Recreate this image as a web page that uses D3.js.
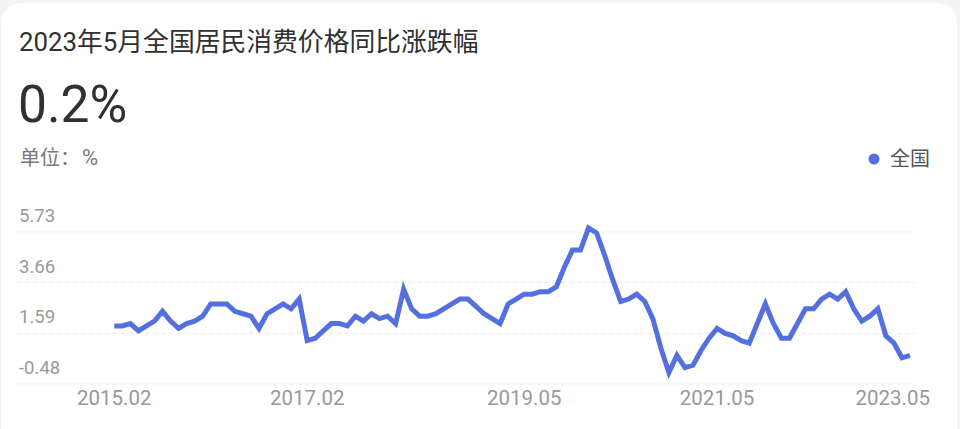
<!DOCTYPE html>
<html>
<head>
<meta charset="utf-8">
<script src="https://cdn.jsdelivr.net/npm/d3@7"></script>
<style>
  html, body { margin: 0; padding: 0; background: #f4f4f5; }
  svg { display: block; }
  text { font-family: Roboto, "Noto Sans CJK SC", sans-serif; }
</style>
</head>
<body>
<svg id="chart" width="960" height="429"></svg>
<script>
// ---- data ----
const titleText = "2023年5月全国居民消费价格同比涨跌幅";
const latestValue = "0.2%";
const unitLabel = "单位：";
const unitSymbol = "%";
const seriesName = "全国";
// months from 2015.02 to 2023.05
const months = [];
for (let y = 2015; y <= 2023; y++) {
  for (let m = 1; m <= 12; m++) {
    if ((y === 2015 && m < 2) || (y === 2023 && m > 5)) continue;
    months.push(y + "." + String(m).padStart(2, "0"));
  }
}
const cpi2015 = [1.4, 1.4, 1.5, 1.2, 1.4, 1.6, 2.0, 1.6, 1.3, 1.5, 1.6];
const cpi2016 = [1.8, 2.3, 2.3, 2.3, 2.0, 1.9, 1.8, 1.3, 1.9, 2.1, 2.3, 2.1];
const cpi2017 = [2.5, 0.8, 0.9, 1.2, 1.5, 1.5, 1.4, 1.8, 1.6, 1.9, 1.7, 1.8];
const cpi2018 = [1.5, 2.9, 2.1, 1.8, 1.8, 1.9, 2.1, 2.3, 2.5, 2.5, 2.2, 1.9];
const cpi2019 = [1.7, 1.5, 2.3, 2.5, 2.7, 2.7, 2.8, 2.8, 3.0, 3.8, 4.5, 4.5];
const cpi2020 = [5.4, 5.2, 4.3, 3.3, 2.4, 2.5, 2.7, 2.4, 1.7, 0.5, -0.5, 0.2];
const cpi2021 = [-0.3, -0.2, 0.4, 0.9, 1.3, 1.1, 1.0, 0.8, 0.7, 1.5, 2.3, 1.5];
const cpi2022 = [0.9, 0.9, 1.5, 2.1, 2.1, 2.5, 2.7, 2.5, 2.8, 2.1, 1.6, 1.8];
const cpi2023 = [2.1, 1.0, 0.7, 0.1, 0.2];
const values = [].concat(cpi2015, cpi2016, cpi2017, cpi2018, cpi2019, cpi2020, cpi2021, cpi2022, cpi2023);
const yTicks = [-0.48, 1.59, 3.66, 5.73];
const xTickLabels = ["2015.02", "2017.02", "2019.05", "2021.05", "2023.05"];

const data = months.map((m, i) => ({ m, v: values[i] }));

// ---- layout ----
const svg = d3.select("#chart");
const plotLeft = 17, plotRight = 915, labelRight = 930;

// card
svg.append("rect")
  .attr("x", 1).attr("y", 3).attr("width", 956).attr("height", 480)
  .attr("rx", 20).attr("fill", "#ffffff");

// header texts
svg.append("text").attr("x", 19).attr("y", 51)
  .attr("font-size", 25.8).attr("fill", "#303030").text(titleText);
svg.append("text").attr("x", 18).attr("y", 122)
  .attr("font-size", 51.5).attr("fill", "#303030").text(latestValue);
const unit = svg.append("text").attr("x", 20).attr("y", 165)
  .attr("font-size", 20).attr("fill", "#777");
unit.append("tspan").text(unitLabel);
unit.append("tspan").attr("x", 82).attr("font-size", 22).text(unitSymbol);

// legend
const legend = svg.append("g");
legend.append("circle").attr("cx", 874).attr("cy", 159).attr("r", 5.5).attr("fill", "#5470e0");
legend.append("text").attr("x", 890).attr("y", 166)
  .attr("font-size", 20).attr("fill", "#555").text(seriesName);

// scales
const x = d3.scalePoint().domain(months).range([114.3, 910]);
const yGrid = d3.scaleLinear().domain([-0.48, 5.73]).range([384, 232]);
const yLine = d3.scaleLinear().domain([-0.48, 5.73]).range([372, 220]);

// grid lines
svg.append("g").selectAll("line").data(yTicks).join("line")
  .attr("x1", plotLeft).attr("x2", plotRight)
  .attr("y1", d => yGrid(d)).attr("y2", d => yGrid(d))
  .attr("stroke", "#e6e6e6").attr("stroke-width", 1)
  .attr("stroke-dasharray", "4,4");

// y labels
svg.append("g").selectAll("text").data(yTicks).join("text")
  .attr("x", 19).attr("y", d => yGrid(d) - 10)
  .attr("font-size", 18.5).attr("fill", "#999")
  .text(d => d.toFixed(2));

// x labels
const xl = svg.append("g").selectAll("text").data(xTickLabels).join("text")
  .attr("y", 405)
  .attr("font-size", 20.5).attr("fill", "#999")
  .attr("text-anchor", "middle")
  .text(d => d);
xl.each(function(d) {
  const w = this.getComputedTextLength();
  let cx = x(d);
  if (cx + w / 2 > labelRight) cx = labelRight - w / 2;
  d3.select(this).attr("x", cx);
});

// line
const line = d3.line().x(d => x(d.m)).y(d => yLine(d.v));
svg.append("path").datum(data)
  .attr("d", line)
  .attr("fill", "none")
  .attr("stroke", "#5470e0")
  .attr("stroke-width", 5)
  .attr("stroke-linejoin", "miter");
</script>
</body>
</html>
